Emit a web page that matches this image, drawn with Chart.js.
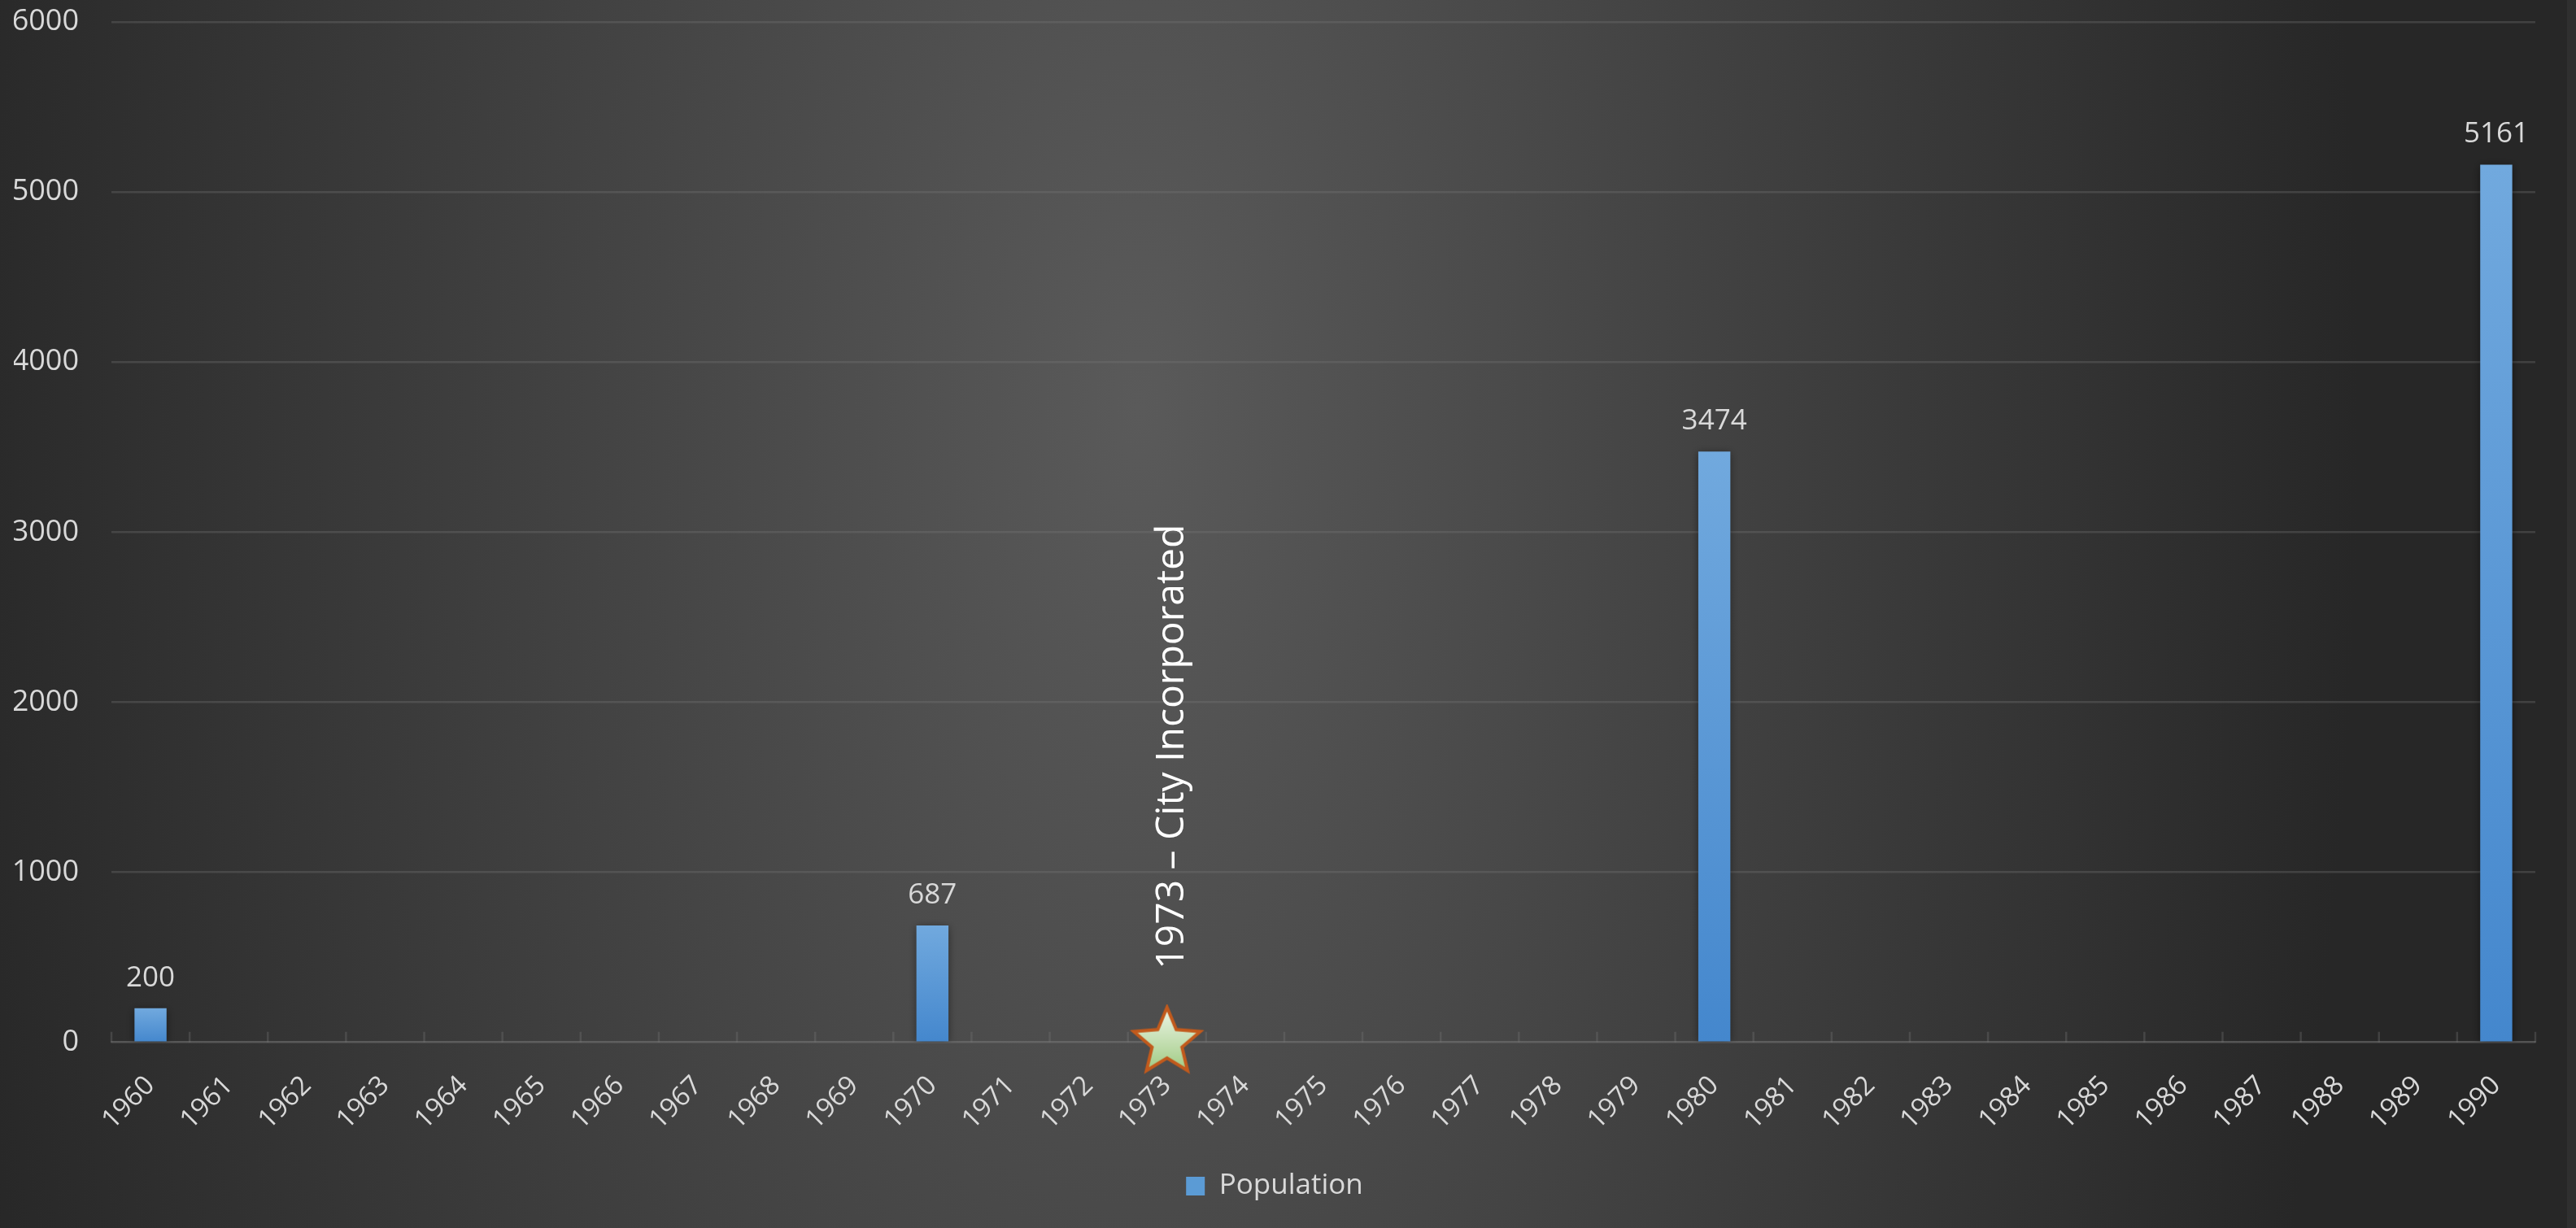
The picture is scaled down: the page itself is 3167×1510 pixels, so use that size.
<!DOCTYPE html>
<html>
<head>
<meta charset="utf-8">
<script src="https://cdn.jsdelivr.net/npm/chart.js@4.4.1/dist/chart.umd.min.js"></script>
<style>
  html, body { margin: 0; padding: 0; background: #272727; overflow: hidden; }
  #wrap { width: 3167px; height: 1510px; position: relative; }
</style>
</head>
<body>
<div id="wrap"><canvas id="c" width="3167" height="1510"></canvas></div>
<script>
// ---------------- DATA ----------------
const years = ['1960','1961','1962','1963','1964','1965','1966','1967','1968','1969',
               '1970','1971','1972','1973','1974','1975','1976','1977','1978','1979',
               '1980','1981','1982','1983','1984','1985','1986','1987','1988','1989','1990'];
const population = [200, null, null, null, null, null, null, null, null, null,
                    687, null, null, null, null, null, null, null, null, null,
                    3474, null, null, null, null, null, null, null, null, null,
                    5161];
const seriesName = 'Population';
const milestoneYears = ['1973'];
const milestoneTexts = ['1973 – City Incorporated'];
const yTicks = [0, 1000, 2000, 3000, 4000, 5000, 6000];

// ---------------- STYLE ----------------
const FONT = '"Open Sans", "Noto Sans", sans-serif';
const TXT = '#d9d9d9';
const GRID = 'rgba(120,120,120,0.32)';

// star marker image
function makeStar(R) {
  const pad = 4;
  const s = Math.ceil(R * 2 + pad * 2);
  const cv = document.createElement('canvas');
  cv.width = s; cv.height = s;
  const c = cv.getContext('2d');
  const cx = s / 2, cy = s / 2, r = R * 0.45;
  c.beginPath();
  for (let i = 0; i < 10; i++) {
    const rad = i % 2 === 0 ? R : r;
    const a = -Math.PI / 2 + i * Math.PI / 5;
    const x = cx + rad * Math.cos(a), y = cy + rad * Math.sin(a);
    if (i === 0) c.moveTo(x, y); else c.lineTo(x, y);
  }
  c.closePath();
  const g = c.createLinearGradient(0, cy - R, 0, cy + R);
  g.addColorStop(0, '#eef6e8');
  g.addColorStop(1, '#99c77a');
  c.fillStyle = g;
  c.fill();
  c.lineWidth = 4;
  c.lineJoin = 'miter';
  c.strokeStyle = '#c25a1c';
  c.stroke();
  return cv;
}
const starImg = makeStar(43);
const milestoneData = years.map(y => milestoneYears.includes(y) ? 0 : null);

const bgPlugin = {
  id: 'bg',
  beforeDraw(chart) {
    const ctx = chart.ctx, w = chart.width, h = chart.height;
    ctx.save();
    ctx.fillStyle = '#272727';
    ctx.fillRect(0, 0, w, h);
    const cx = 1400, cy = 500, sy = 2.1;
    ctx.translate(cx, cy);
    ctx.scale(1, sy);
    const g = ctx.createRadialGradient(0, 0, 0, 0, 0, 1500);
    g.addColorStop(0, '#5a5a5a');
    g.addColorStop(1, '#272727');
    ctx.fillStyle = g;
    ctx.fillRect(-cx, -cy / sy, w, h / sy);
    ctx.restore();
    ctx.save();
    ctx.fillStyle = '#2f2f2f';
    ctx.fillRect(w - 11, 0, 11, h);
    ctx.restore();
  }
};

const ticksPlugin = {
  id: 'insideTicks',
  beforeDatasetsDraw(chart) {
    const xs = chart.scales.x, ys = chart.scales.y;
    const ctx = chart.ctx;
    const n = xs.getLabels().length;
    const step = xs.width / n;
    const y0 = ys.getPixelForValue(0);
    ctx.save();
    ctx.strokeStyle = GRID;
    ctx.lineWidth = 2.5;
    ctx.beginPath();
    for (let k = 0; k <= n; k++) {
      const x = xs.left + k * step;
      ctx.moveTo(x, y0);
      ctx.lineTo(x, y0 - 13);
    }
    ctx.stroke();
    ctx.restore();
  },
  beforeDatasetDraw(chart, args) {
    if (args.index === 0) {
      const ctx = chart.ctx;
      ctx.save();
      ctx.shadowColor = 'rgba(0,0,0,0.45)';
      ctx.shadowBlur = 10;
      ctx.shadowOffsetY = 2;
    }
  },
  afterDatasetDraw(chart, args) {
    if (args.index === 0) chart.ctx.restore();
  },
  afterDatasetsDraw(chart) {
    const ctx = chart.ctx;
    const meta = chart.getDatasetMeta(0);
    ctx.save();
    ctx.fillStyle = TXT;
    ctx.font = '35px ' + FONT;
    ctx.textAlign = 'center';
    ctx.textBaseline = 'middle';
    meta.data.forEach((el, i) => {
      const v = population[i];
      if (v == null) return;
      ctx.fillText(String(v), el.x, el.y - 37);
    });
    // milestone annotation text
    const xs = chart.scales.x, ys = chart.scales.y;
    milestoneYears.forEach((yr, i) => {
      const x = xs.getPixelForValue(years.indexOf(yr));
      const y = ys.getPixelForValue(0);
      ctx.save();
      ctx.translate(x + 7, y - 90);
      ctx.rotate(-Math.PI / 2);
      ctx.fillStyle = '#ffffff';
      ctx.font = '48px ' + FONT;
      ctx.textAlign = 'left';
      ctx.textBaseline = 'middle';
      ctx.fillText(milestoneTexts[i], 0, 0);
      ctx.restore();
    });
    ctx.restore();
  }
};

function barGradient(c) {
  const ch = c.chart;
  const ys = ch.scales && ch.scales.y;
  if (!ys || c.raw == null) return '#5b9bd5';
  const top = ys.getPixelForValue(c.raw), bot = ys.getPixelForValue(0);
  if (!isFinite(top) || !isFinite(bot) || top === bot) return '#5b9bd5';
  const g = ch.ctx.createLinearGradient(0, top, 0, bot);
  g.addColorStop(0, '#71a9de');
  g.addColorStop(1, '#4487cd');
  return g;
}

new Chart(document.getElementById('c'), {
  data: {
    labels: years,
    datasets: [
      {
        type: 'bar',
        label: seriesName,
        data: population,
        backgroundColor: barGradient,
        borderWidth: 0,
        barPercentage: 0.41,
        categoryPercentage: 1.0,
        order: 2
      },
      {
        type: 'line',
        label: 'milestone',
        data: milestoneData,
        showLine: false,
        pointStyle: starImg,
        pointRadius: 43,
        clip: false,
        order: 1
      }
    ]
  },
  options: {
    responsive: false,
    animation: false,
    devicePixelRatio: 1,
    layout: { autoPadding: false, padding: { left: 17, right: 50, top: 27, bottom: 24 } },
    plugins: {
      tooltip: { enabled: false },
      legend: {
        position: 'bottom',
        labels: {
          color: TXT,
          font: { family: FONT, size: 35 },
          boxWidth: 23,
          boxHeight: 23,
          padding: 10,
          generateLabels: () => [{
            text: seriesName,
            fillStyle: '#5b9bd5',
            strokeStyle: 'rgba(0,0,0,0)',
            lineWidth: 0,
            fontColor: TXT,
            datasetIndex: 0
          }]
        }
      }
    },
    scales: {
      x: {
        type: 'category',
        offset: true,
        grid: { display: false, drawTicks: false },
        border: { display: true, color: GRID, width: 2.5 },
        afterFit: (s) => { s.paddingLeft = 0; s.paddingRight = 0; },
        ticks: {
          color: TXT,
          font: { family: FONT, size: 33 },
          minRotation: 45,
          maxRotation: 45,
          autoSkip: false,
          padding: 34
        }
      },
      y: {
        min: 0,
        max: 6000,
        afterBuildTicks: (s) => { s.ticks = yTicks.map(v => ({ value: v })); },
        afterFit: (s) => { s.width = 120; s.paddingTop = 0; s.paddingBottom = 0; },
        grid: { color: GRID, lineWidth: 2.5, drawTicks: false },
        border: { display: false },
        ticks: {
          color: TXT,
          font: { family: FONT, size: 36 },
          padding: 40,
          callback: (v) => String(v)
        }
      }
    }
  },
  plugins: [bgPlugin, ticksPlugin]
});
</script>
</body>
</html>
